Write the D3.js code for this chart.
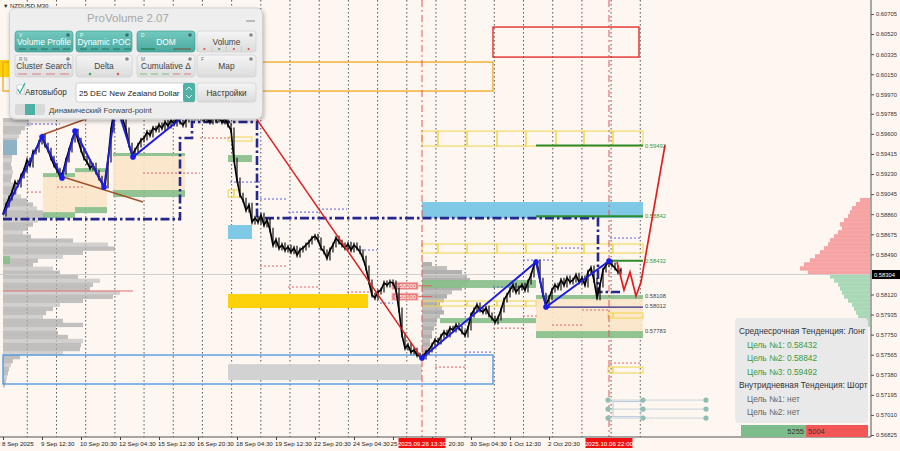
<!DOCTYPE html>
<html><head><meta charset="utf-8">
<script src="https://cdn.jsdelivr.net/npm/d3@7"></script>
<style>
html,body{margin:0;padding:0;background:#fdf6f1;}
svg{display:block;font-family:"Liberation Sans","DejaVu Sans",Arial,sans-serif;}
</style></head><body>
<svg id="c" width="900" height="451"></svg>
<script>
// ---------------- DATA ----------------
const symbolLabel = "NZDUSD,M30";
const priceTicks = [0.60705,0.60520,0.60335,0.60150,0.59965,0.59785,0.59600,0.59415,0.59230,0.59045,0.58860,0.58675,0.58490,0.58120,0.57935,0.57750,0.57565,0.57380,0.57195,0.57010,0.56825];
const priceTickLabels = ["0.60705","0.60520","0.60335","0.60150","0.59970","0.59785","0.59600","0.59415","0.59230","0.59045","0.58860","0.58675","0.58490","0.58120","0.57935","0.57750","0.57565","0.57380","0.57195","0.57010","0.56825"];
const dateLabels = ["8 Sep 2025","9 Sep 12:30","10 Sep 20:30","12 Sep 04:30","15 Sep 12:30","16 Sep 20:30","18 Sep 04:30","19 Sep 12:30","22 Sep 20:30","24 Sep 04:30","25 Sep 12:30","26 Sep 20:30","30 Sep 04:30","1 Oct 12:30","2 Oct 20:30"];
const markerTimes = [139.67, 202];
const markerLabels = ["2025.09.26 13:30","2025.10.06 22:00"];
const currentPrice = 0.58304;

const closes = [
0.58861,0.58944,0.59009,0.59064,0.59156,0.59129,0.59212,0.59267,0.59359,0.59313,
0.59433,0.59451,0.59525,0.59580,0.59497,0.59451,0.59377,0.59313,0.59267,0.59212,
0.59248,0.59359,0.59451,0.59543,0.59626,0.59543,0.59451,0.59377,0.59341,0.59285,
0.59313,0.59248,0.59193,0.59147,0.59120,0.59359,0.59636,0.59820,0.59866,0.59801,
0.59728,0.59636,0.59497,0.59405,0.59451,0.59497,0.59543,0.59562,0.59617,0.59589,
0.59654,0.59636,0.59682,0.59654,0.59709,0.59672,0.59728,0.59691,0.59746,0.59709,
0.59682,0.59728,0.59774,0.59746,0.59801,0.59746,0.59774,0.59728,0.59746,0.59709,
0.59765,0.59728,0.59746,0.59709,0.59746,0.59682,0.59636,0.59359,0.59175,0.59036,
0.58990,0.58898,0.58944,0.58787,0.58824,0.58787,0.58852,0.58760,0.58806,0.58714,
0.58576,0.58622,0.58548,0.58576,0.58530,0.58557,0.58512,0.58548,0.58484,0.58530,
0.58548,0.58576,0.58603,0.58640,0.58658,0.58622,0.58548,0.58512,0.58456,0.58530,
0.58576,0.58640,0.58603,0.58576,0.58548,0.58585,0.58530,0.58576,0.58548,0.58512,
0.58456,0.58364,0.58235,0.58115,0.58088,0.58143,0.58161,0.58226,0.58207,0.58235,
0.58226,0.58161,0.57977,0.57746,0.57626,0.57654,0.57589,0.57608,0.57562,0.57552,
0.57543,0.57589,0.57608,0.57654,0.57700,0.57681,0.57736,0.57774,0.57746,0.57810,
0.57792,0.57838,0.57810,0.57774,0.57746,0.57810,0.57931,0.57977,0.58023,0.57977,
0.57958,0.57995,0.57931,0.57903,0.57866,0.57903,0.57977,0.58069,0.58115,0.58161,
0.58207,0.58143,0.58180,0.58207,0.58161,0.58235,0.58299,0.58392,0.58419,0.58253,
0.58115,0.58023,0.58088,0.58161,0.58207,0.58180,0.58253,0.58207,0.58272,0.58235,
0.58253,0.58299,0.58235,0.58272,0.58207,0.58327,0.58364,0.58253,0.58088,0.58207,
0.58345,0.58392,0.58419,0.58392,0.58364,0.58327,0.58345];

// zones: [t0, t1, priceHigh, priceLow]
const beigeZones = [[13.33,24,0.59202,0.58879],[24,34.67,0.59248,0.58926],[36.67,60.67,0.59396,0.59083],[177.67,213.33,0.58078,0.57783]];
const greenZones = [[13.33,24,0.59239,0.59202],[24,34.67,0.59285,0.59248],[36.67,60.67,0.59424,0.59396],[36.67,60.67,0.59083,0.59018],
  [13.33,24,0.58879,0.58824],[24,34.67,0.58926,0.58870],[75,83,0.59405,0.59341],[139.67,177.67,0.58253,0.58180],
  [145.67,177.67,0.57903,0.57856],[177.67,213.33,0.58115,0.58078],[177.67,213.33,0.57783,0.57718],[0,2.33,0.58474,0.58401]];
const skyZones = [[75,83,0.58760,0.58631],[139.67,213.33,0.58972,0.58824]];
const steelZones = [[0,4.67,0.59543,0.59405]];
const goldZones = [[75,121.67,0.58124,0.57995],[-1,2.33,0.60280,0.60124]];
const grayZones = [[75,139.67,0.57478,0.57331]];
const blueOutlines = [[0,163.33,0.57562,0.57295]];
const orangeOutlines = [[0,163.33,0.60262,0.59995]];
const redOutlines = [[163.33,212,0.60585,0.60308]];
const yellowBoxes = [
  {divs:[139.67,145,154.67,164.67,174.33,184.33,193.67,203.33,213.33], hi:0.59626, lo:0.59488},
  {divs:[139.67,145,154.67,164.67,174.33,184.33,193.67,203.33,213.33], hi:0.58585, lo:0.58502},
  {divs:[139.67,145,154.67,164.67,174.33,177.67], hi:0.58060, lo:0.58014},
  {divs:[201.67,203.33,213.33], hi:0.57949, lo:0.57903},
  {divs:[201.67,203.33,213.33], hi:0.57451, lo:0.57396},
  {divs:[75,83], hi:0.59571, lo:0.59534},
  {divs:[75,77,79], hi:0.59083, lo:0.59018}
];

// lines: [t, price]
const zigzagA = [[0,0.58852],[13,0.59571],[19.67,0.59193],[24,0.59626],[33.67,0.59110],[37.67,0.59875],[43.33,0.59387],[65.67,0.59884]];
const zigzagB = [[139.67,0.57534],[177.67,0.58419],[181,0.58004],[202,0.58428]];
const redTrend = [[84.33,0.59746],[139.33,0.57543]];
const redForecast = [[204.67,0.58419],[207,0.58161],[209,0.58327],[211,0.58106],[212.67,0.58235],[220.67,0.59497]];
const brownUpper = [[13,0.59589],[34,0.59802]];
const brownLower = [[19,0.59212],[46.67,0.58972]];
const navyPath = [[0,0.58815],[59,0.58815],[59,0.59562],[63,0.59562],[63,0.59709],[84.67,0.59709],[84.67,0.58824],[198.33,0.58824],[198.33,0.58143],[206.33,0.58143]];
const navySolid = [[181,0.58004],[213.33,0.58004]];

const targetLevels = [0.59492,0.58842,0.58432];
const targetStarts = [177.67,177.67,202];
const levelLabels = [0.58108,0.58012,0.57783];

// short dotted levels: [t0, t1, price]
const purpleDots = [[8,19,0.59691],[75.67,85.67,0.59156],[85.67,95,0.59000],[95,105,0.58879],[105,114.67,0.58907],[119,124.67,0.58530],[125.67,130,0.58041],[163.33,173.33,0.58189],[173.33,183,0.58437],[184.67,193,0.58548],[202.33,212.33,0.58640],[154,163.33,0.57589]];
const redDots = [[8,13.33,0.59064],[18,27.33,0.59110],[46.67,65.67,0.59239],[65.67,75.67,0.59562],[85.67,95,0.58382],[95,105,0.58189],[114.67,124.67,0.58143],[173.33,178,0.57921],[163.33,173.33,0.57810],[193,201.67,0.57977],[183,193,0.57838],[202.33,212.33,0.57488],[144,154,0.57451]];

const pocLevels = [0.58200, 0.58100];

// volume profiles
const vpBin = 0.00037;
const vpLeftTop = 0.59746;
const vpLeftVol = [26,28,22,18,16,14,12,10,10,9,9,8,9,10,9,8,10,12,14,18,24,30,34,40,42,35,30,25,20,28,70,105,112,80,60,35,30,50,57,75,97,90,87,117,110,80,57,50,43,40,60,80,53,55,65,80,78,77,60,17,10,8,6,5,4,3,2];
const vpLeftPoc = 0.58152;
const vpMidTop = 0.58419;
const vpMidVol = [10,25,40,45,48,45,40,30,25,22,18,20,22,18,15,14,12,10,10,8,8,6,4,3];
const vpRightTop = 0.59009;
const vpRightSell = [10,14,18,20,22,26,30,28,32,36,40,42,46,50,55,60,66,70,62];
const vpRightBuy = [40,36,32,30,28,26,22,18,16,14,12,8,5];

const markerCols = [201.67,213.33,234.33];
const markerRows = [0.57147,0.57064,0.56981];

const trendMid = "Лонг", trendIntra = "Шорт";
const targetsMid = ["0.58432","0.58842","0.59492"];
const targetsIntra = ["нет","нет"];
const buyVolume = 5255, sellVolume = 5004;

// ---------------- DRAW ----------------
const svg = d3.select('#c');
const xS = d3.scaleLinear().domain([0,289]).range([3,870]);
const yS = d3.scaleLinear().domain([0.56825,0.60705]).range([435,14]);
const vS = d3.scaleLinear().domain([0,100]).range([0,100]);

const defs = svg.append('defs');
defs.append('clipPath').attr('id','plot').append('rect').attr('x',0).attr('y',0).attr('width',871).attr('height',437);
const f = defs.append('filter').attr('id','sh').attr('x','-10%').attr('y','-10%').attr('width','130%').attr('height','130%');
f.append('feDropShadow').attr('dx',1).attr('dy',2).attr('stdDeviation',2).attr('flood-color','#000').attr('flood-opacity',0.28);
const tg = defs.append('linearGradient').attr('id','teal').attr('x1',0).attr('y1',0).attr('x2',0).attr('y2',1);
tg.append('stop').attr('offset','0%').attr('stop-color','#72cac0');
tg.append('stop').attr('offset','100%').attr('stop-color','#4aa99f');
const gg = defs.append('linearGradient').attr('id','gbtn').attr('x1',0).attr('y1',0).attr('x2',0).attr('y2',1);
gg.append('stop').attr('offset','0%').attr('stop-color','#f5f5f5');
gg.append('stop').attr('offset','100%').attr('stop-color','#dcdcdc');

svg.append('rect').attr('width',900).attr('height',451).attr('fill','#fdf6f1');
const plot = svg.append('g').attr('clip-path','url(#plot)');

function zone(g, d, fill, op){
  g.append('rect').attr('x',xS(d[0])).attr('width',xS(d[1])-xS(d[0]))
   .attr('y',yS(d[2])).attr('height',yS(d[3])-yS(d[2])).attr('fill',fill).attr('opacity',op||1);
}
function outline(g,d,stroke,w){
  g.append('rect').attr('x',xS(d[0])).attr('width',xS(d[1])-xS(d[0]))
   .attr('y',yS(d[2])).attr('height',yS(d[3])-yS(d[2])).attr('fill','none').attr('stroke',stroke).attr('stroke-width',w||1);
}
const line = d3.line().x(d=>xS(d[0])).y(d=>yS(d[1]));

// day separators (grid)
d3.range(22).forEach(k=>{
  const t = 8.1 + 9.73*k;
  plot.append('line').attr('x1',xS(t)).attr('x2',xS(t)).attr('y1',0).attr('y2',437)
    .attr('stroke','#444').attr('stroke-width',0.9).attr('stroke-dasharray','1.5,2.5');
});

// left volume profile
vpLeftVol.forEach((v,i)=>{
  const p0 = vpLeftTop - i*vpBin;
  plot.append('rect').attr('x',xS(0)).attr('y',yS(p0)).attr('width',vS(v)).attr('height',yS(p0-vpBin)-yS(p0)+0.3)
    .attr('fill', i%3===1 ? '#c4c4c4' : '#adadad').attr('opacity',0.75);
});
plot.append('line').attr('x1',xS(0)).attr('x2',xS(0)+130).attr('y1',yS(vpLeftPoc)).attr('y2',yS(vpLeftPoc)).attr('stroke','#e07070').attr('stroke-width',1.2);

// mid volume profile
vpMidVol.forEach((v,i)=>{
  const p0 = vpMidTop - i*vpBin;
  plot.append('rect').attr('x',xS(139.67)).attr('y',yS(p0)).attr('width',vS(v)).attr('height',yS(p0-vpBin)-yS(p0)+0.3)
    .attr('fill', i%2 ? '#b5b5b5' : '#a3a3a3').attr('opacity',0.85);
});

// right current profile
vpRightSell.forEach((v,i)=>{
  const p0 = vpRightTop - i*vpBin;
  plot.append('rect').attr('x',xS(289)-vS(v)).attr('y',yS(p0)).attr('width',vS(v)).attr('height',yS(p0-vpBin)-yS(p0)+0.3).attr('fill','#f6a3a3');
});
vpRightBuy.forEach((v,i)=>{
  const p0 = vpRightTop - (vpRightSell.length+i)*vpBin;
  plot.append('rect').attr('x',xS(289)-vS(v)).attr('y',yS(p0)).attr('width',vS(v)).attr('height',yS(p0-vpBin)-yS(p0)+0.3).attr('fill','#a8d8b6');
});

// zones
beigeZones.forEach(d=>zone(plot,d,'#fbe6c6',0.9));
greenZones.forEach(d=>zone(plot,d,'#86bf88',0.9));
skyZones.forEach(d=>zone(plot,d,'#7fc9e6',1));
steelZones.forEach(d=>zone(plot,d,'#8fb3c4',1));
goldZones.forEach(d=>zone(plot,d,'#fdd20a',1));
grayZones.forEach(d=>zone(plot,d,'#d2d2d2',1));
blueOutlines.forEach(d=>outline(plot,d,'#4a94e0',1.3));
orangeOutlines.forEach(d=>outline(plot,d,'#f2a821',1.3));
redOutlines.forEach(d=>outline(plot,d,'#e02020',1.3));
yellowBoxes.forEach(b=>{
  for(let i=0;i<b.divs.length-1;i++) outline(plot,[b.divs[i],b.divs[i+1],b.hi,b.lo],'#f1d64a',1);
});

// current price line
plot.append('line').attr('x1',0).attr('x2',871).attr('y1',yS(currentPrice)).attr('y2',yS(currentPrice)).attr('stroke','#cfcfcf').attr('stroke-width',1);

// dotted levels
purpleDots.forEach(d=>plot.append('line').attr('x1',xS(d[0])).attr('x2',xS(d[1])).attr('y1',yS(d[2])).attr('y2',yS(d[2])).attr('stroke','#6060d8').attr('stroke-width',1).attr('stroke-dasharray','2,2'));
redDots.forEach(d=>plot.append('line').attr('x1',xS(d[0])).attr('x2',xS(d[1])).attr('y1',yS(d[2])).attr('y2',yS(d[2])).attr('stroke','#e06666').attr('stroke-width',1).attr('stroke-dasharray','2,2'));

// marker verticals
markerTimes.forEach(t=>plot.append('line').attr('x1',xS(t)).attr('x2',xS(t)).attr('y1',0).attr('y2',437).attr('stroke','#e05656').attr('stroke-width',1).attr('stroke-dasharray','7,3,2,3'));

// navy dash-dot
plot.append('path').attr('d',line(navyPath)).attr('fill','none').attr('stroke','#26268f').attr('stroke-width',2.6).attr('stroke-dasharray','9,3,2.5,3');
plot.append('path').attr('d',line(navySolid)).attr('fill','none').attr('stroke','#2a2a8a').attr('stroke-width',1.3);

// target lines
targetLevels.forEach((p,i)=>{
  plot.append('line').attr('x1',xS(targetStarts[i])).attr('x2',xS(213.33)).attr('y1',yS(p)).attr('y2',yS(p)).attr('stroke','#2e8b2e').attr('stroke-width',2);
  plot.append('text').attr('x',xS(213.33)+2).attr('y',yS(p)+2).attr('font-size','5.8px').attr('fill','#3a9a3a').text(p.toFixed(5));
});
levelLabels.forEach(p=>plot.append('text').attr('x',xS(213.33)+2).attr('y',yS(p)+2).attr('font-size','5.8px').attr('fill','#444').text(p.toFixed(5)));

// POC labels
pocLevels.forEach(p=>{
  plot.append('line').attr('x1',xS(131.67)).attr('x2',xS(143)).attr('y1',yS(p)).attr('y2',yS(p)).attr('stroke','#e06060').attr('stroke-width',1);
  plot.append('rect').attr('x',xS(129.67)).attr('y',yS(p)-3.5).attr('width',xS(138.33)-xS(129.67)).attr('height',7).attr('fill','#e77b7b').attr('stroke','#f5b5b5').attr('stroke-width',0.8);
  plot.append('text').attr('x',xS(130.5)).attr('y',yS(p)+2.3).attr('font-size','6px').attr('fill','#fff').text(p.toFixed(5));
});

// brown trendlines
[brownUpper,brownLower].forEach(l=>plot.append('path').attr('d',line(l)).attr('fill','none').attr('stroke','#a0522d').attr('stroke-width',1.6));

// price (candles approximated)
const pts = closes.map((c,i)=>[i,c]);
const wick = 2.4;
for(let i=1;i<pts.length;i++){
  const a = yS(pts[i-1][1]), b = yS(pts[i][1]);
  plot.append('line').attr('x1',xS(i)).attr('x2',xS(i)).attr('y1',Math.min(a,b)-wick).attr('y2',Math.max(a,b)+wick).attr('stroke','#111').attr('stroke-width',1.2);
}
plot.append('path').attr('d',line(pts)).attr('fill','none').attr('stroke','#000').attr('stroke-width',1.7).attr('stroke-linejoin','round');

// red lines
plot.append('path').attr('d',line(redTrend)).attr('fill','none').attr('stroke','#e01e1e').attr('stroke-width',1.5);
plot.append('path').attr('d',line(redForecast)).attr('fill','none').attr('stroke','#e01e1e').attr('stroke-width',1.7);

// zigzags
[zigzagA,zigzagB].forEach(z=>plot.append('path').attr('d',line(z)).attr('fill','none').attr('stroke','#1e1ee0').attr('stroke-width',2));
zigzagA.slice(1,7).concat(zigzagB).forEach(d=>plot.append('circle').attr('cx',xS(d[0])).attr('cy',yS(d[1])).attr('r',2.8).attr('fill','#1a1af0'));

// bottom-right markers
markerRows.forEach(p=>plot.append('line').attr('x1',xS(markerCols[0])).attr('x2',xS(markerCols[2])).attr('y1',yS(p)).attr('y2',yS(p)).attr('stroke','#c9d3d8').attr('stroke-width',1));
plot.append('rect').attr('x',xS(203.33)).attr('y',yS(markerRows[0])+1.5).attr('width',xS(213.33)-xS(203.33)-2).attr('height',yS(markerRows[2])-yS(markerRows[0])-3).attr('fill','none').attr('stroke','#b9c9e0');
markerCols.forEach(t=>markerRows.forEach(p=>plot.append('circle').attr('cx',xS(t)).attr('cy',yS(p)).attr('r',2.6).attr('fill','#8fbfb0')));

// axes
svg.append('line').attr('x1',871).attr('x2',871).attr('y1',0).attr('y2',437).attr('stroke','#555').attr('stroke-width',1);
svg.append('line').attr('x1',0).attr('x2',871).attr('y1',437).attr('y2',437).attr('stroke','#555').attr('stroke-width',1);
const gy = svg.append('g').attr('transform','translate(871,0)')
  .call(d3.axisRight(yS).tickValues(priceTicks).tickFormat((d,i)=>priceTickLabels[i]).tickSize(3).tickPadding(2));
gy.select('.domain').remove();
gy.selectAll('line').attr('stroke','#555');
gy.selectAll('text').attr('font-size','5.8px').attr('fill','#333').attr('font-family','"Liberation Sans",Arial,sans-serif');
svg.append('rect').attr('x',872).attr('y',yS(currentPrice)-4.5).attr('width',28).attr('height',9).attr('fill','#000');
svg.append('text').attr('x',874).attr('y',yS(currentPrice)+2.2).attr('font-size','5.8px').attr('fill','#fff').text(currentPrice.toFixed(5));

// date axis: labels partly covered by the marker flags show only their visible part
const dateTicks = dateLabels.map((d,i)=>13*i);
const markerBoxes = markerTimes.map(t=>[xS(t)-23.5, xS(t)+23.5]);
const dateGroup = svg.append('g');
const gx = svg.append('g').attr('transform','translate(0,437)')
  .call(d3.axisBottom(xS).tickValues(dateTicks).tickFormat('').tickSize(3));
gx.select('.domain').remove();
gx.selectAll('line').attr('stroke','#444');
dateLabels.forEach((l,i)=>{
  const x0 = xS(dateTicks[i]) - 1;
  const t = dateGroup.append('text').attr('x',x0).attr('y',446).attr('font-size','6.2px').attr('fill','#222').text(l);
  const w = t.node().getComputedTextLength();
  for(const [a,b] of markerBoxes){
    if(x0 < a && x0 + w > a){ t.text(l.split(' ')[0]).attr('x', x0 - 1.5); }
    else if(x0 >= a && x0 < b){ t.text(l.split(' ').slice(-1)[0]).attr('x', b + 3); }
  }
});
markerTimes.forEach((t,i)=>{
  svg.append('rect').attr('x',xS(t)-23.5).attr('y',438).attr('width',47).attr('height',10).attr('fill','#f01010');
  svg.append('text').attr('x',xS(t)).attr('y',446).attr('text-anchor','middle').attr('font-size','6.2px').attr('fill','#fff').text(markerLabels[i]);
});

// symbol label
svg.append('text').attr('x',3).attr('y',8).attr('font-size','5.5px').attr('fill','#222').text('▼');
svg.append('text').attr('x',10).attr('y',8).attr('font-size','6px').attr('fill','#222').text(symbolLabel);

// legend box
const L = svg.append('g');
L.append('rect').attr('x',735).attr('y',318).attr('width',133).attr('height',105).attr('rx',4).attr('fill','#e8e8e8').attr('opacity',0.97);
const lg = [
  {t:'Среднесрочная Тенденция: '+trendMid, x:739, c:'#333'},
  {t:'Цель №1: '+targetsMid[0], x:747, c:'#3c9a3c'},
  {t:'Цель №2: '+targetsMid[1], x:747, c:'#3c9a3c'},
  {t:'Цель №3: '+targetsMid[2], x:747, c:'#3c9a3c'},
  {t:'Внутридневная Тенденция: '+trendIntra, x:739, c:'#333'},
  {t:'Цель №1: '+targetsIntra[0], x:747, c:'#666'},
  {t:'Цель №2: '+targetsIntra[1], x:747, c:'#666'}
];
lg.forEach((d,i)=>L.append('text').attr('x',d.x).attr('y',334+i*13.5).attr('font-size','8.3px').attr('fill',d.c).text(d.t));
const bS = d3.scaleLinear().domain([0,buyVolume+sellVolume]).range([741,868]);
L.append('rect').attr('x',bS(0)).attr('y',425).attr('width',bS(buyVolume)-bS(0)).attr('height',12).attr('fill','#7dbd8c');
L.append('rect').attr('x',bS(buyVolume)).attr('y',425).attr('width',bS(buyVolume+sellVolume)-bS(buyVolume)).attr('height',12).attr('fill','#f25656');
L.append('text').attr('x',bS(buyVolume)-2).attr('y',434).attr('text-anchor','end').attr('font-size','7.5px').attr('fill','#333').text(buyVolume);
L.append('text').attr('x',bS(buyVolume)+2).attr('y',434).attr('font-size','7.5px').attr('fill','#333').text(sellVolume);

// ---------------- PANEL ----------------
const P = svg.append('g');
P.append('rect').attr('x',9.5).attr('y',8).attr('width',253).attr('height',111).attr('rx',6).attr('fill','#eeeeee').attr('stroke','#d2d2d2').attr('filter','url(#sh)');
P.append('text').attr('x',128).attr('y',22).attr('text-anchor','middle').attr('font-size','11.5px').attr('fill','#a8a8a8').text('ProVolume 2.07');
P.append('line').attr('x1',246).attr('x2',255).attr('y1',21).attr('y2',21).attr('stroke','#999').attr('stroke-width',1.2);
const buttons = [
 {t:'Volume Profile',x:15,y:31,w:58,h:21,teal:true,tag:'V',marks:'dash5'},
 {t:'Dynamic POC',x:76,y:31,w:56,h:21,teal:true,tag:'P',marks:'dash5'},
 {t:'DOM',x:137,y:31,w:58,h:21,teal:true,tag:'D',marks:'dom'},
 {t:'Volume',x:197,y:31,w:59,h:21,teal:false,tag:'',marks:'dots4'},
 {t:'Cluster Search',x:15,y:55,w:58,h:22,teal:false,tag:'R  N',marks:'red4'},
 {t:'Delta',x:76,y:55,w:56,h:22,teal:false,tag:'',marks:'dots2'},
 {t:'Cumulative Δ',x:137,y:55,w:58,h:22,teal:false,tag:'M',marks:'cum'},
 {t:'Map',x:197,y:55,w:59,h:22,teal:false,tag:'F',marks:''}
];
buttons.forEach(b=>{
  const g = P.append('g');
  g.append('rect').attr('x',b.x).attr('y',b.y).attr('width',b.w).attr('height',b.h).attr('rx',3)
    .attr('fill',b.teal?'url(#teal)':'url(#gbtn)').attr('stroke',b.teal?'#48a197':'#cfcfcf').attr('stroke-width',0.7);
  g.append('text').attr('x',b.x+b.w/2).attr('y',b.y+13.5).attr('text-anchor','middle').attr('font-size','8.4px')
    .attr('fill',b.teal?'#fff':'#444').text(b.t);
  if(b.tag) g.append('text').attr('x',b.x+4).attr('y',b.y+5.5).attr('font-size','4.8px').attr('fill',b.teal?'#e8fffb':'#777').text(b.tag);
  g.append('circle').attr('cx',b.x+b.w-5).attr('cy',b.y+4).attr('r',1.8).attr('fill',b.teal?'#3d6f6a':'#888');
  const by = b.y+b.h-3;
  if(b.marks==='dash5'){ d3.range(5).forEach(k=>g.append('line').attr('x1',b.x+4+k*11).attr('x2',b.x+11+k*11).attr('y1',by).attr('y2',by).attr('stroke','#2b6d66').attr('stroke-width',1)); }
  if(b.marks==='dom'){ g.append('line').attr('x1',b.x+4).attr('x2',b.x+18).attr('y1',by).attr('y2',by).attr('stroke','#1f6a3a').attr('stroke-width',1);
    g.append('line').attr('x1',b.x+36).attr('x2',b.x+54).attr('y1',by).attr('y2',by).attr('stroke','#7a4a3a').attr('stroke-width',1); }
  if(b.marks==='dots4'){ ['#e05050','#3aa050','#e05050','#e05050'].forEach((c,k)=>{
      g.append('line').attr('x1',b.x+k*b.w/4).attr('x2',b.x+k*b.w/4).attr('y1',by-3).attr('y2',b.y+b.h).attr('stroke','#d0d0d0');
      g.append('circle').attr('cx',b.x+b.w/8+k*b.w/4).attr('cy',by).attr('r',1.1).attr('fill',c);}); }
  if(b.marks==='dots2'){ ['#3aa050','#e05050'].forEach((c,k)=>g.append('circle').attr('cx',b.x+b.w/4+k*b.w/2).attr('cy',by).attr('r',1.2).attr('fill',c)); }
  if(b.marks==='red4'){ d3.range(4).forEach(k=>g.append('line').attr('x1',b.x+3+k*14).attr('x2',b.x+12+k*14).attr('y1',by).attr('y2',by).attr('stroke','#e08080').attr('stroke-width',1)); }
  if(b.marks==='cum'){ ['#7fbf7f','#7fbf7f','#7fbf7f','#e08080','#e08080'].forEach((c,k)=>g.append('line').attr('x1',b.x+3+k*11).attr('x2',b.x+10+k*11).attr('y1',by).attr('y2',by).attr('stroke',c).attr('stroke-width',1)); }
});
// row 3
P.append('rect').attr('x',17).attr('y',85).attr('width',7).attr('height',9).attr('fill','#fff').attr('stroke','#bbb').attr('stroke-width',0.6);
P.append('path').attr('d','M17.5,89 L20,93 L25,83').attr('fill','none').attr('stroke','#3ab0a4').attr('stroke-width',1.3);
P.append('text').attr('x',25).attr('y',95).attr('font-size','8.2px').attr('fill','#333').text('Автовыбор');
P.append('rect').attr('x',76).attr('y',83).attr('width',119).attr('height',19).attr('rx',2).attr('fill','#fff').attr('stroke','#d0d0d0');
P.append('rect').attr('x',183).attr('y',83).attr('width',12).attr('height',19).attr('rx',2).attr('fill','#4fb0a5');
P.append('path').attr('d','M186,90 L189,87 L192,90 M186,95 L189,98 L192,95').attr('fill','none').attr('stroke','#e8fffb').attr('stroke-width',0.9);
P.append('text').attr('x',79).attr('y',95.5).attr('font-size','8px').attr('fill','#222').text('25 DEC New Zealand Dollar');
P.append('rect').attr('x',197).attr('y',83).attr('width',59).attr('height',19).attr('rx',3).attr('fill','url(#gbtn)').attr('stroke','#cfcfcf').attr('stroke-width',0.7);
P.append('text').attr('x',226.5).attr('y',95.5).attr('text-anchor','middle').attr('font-size','8.2px').attr('fill','#333').text('Настройки');
// row 4
P.append('rect').attr('x',15).attr('y',104).attr('width',30).attr('height',11).attr('rx',2).attr('fill','#d9d9d9');
P.append('rect').attr('x',25).attr('y',104).attr('width',10).attr('height',11).attr('fill','#4fb0a5');
P.append('text').attr('x',49).attr('y',113).attr('font-size','7.8px').attr('fill','#444').text('Динамический Forward-point');
</script>
</body></html>
